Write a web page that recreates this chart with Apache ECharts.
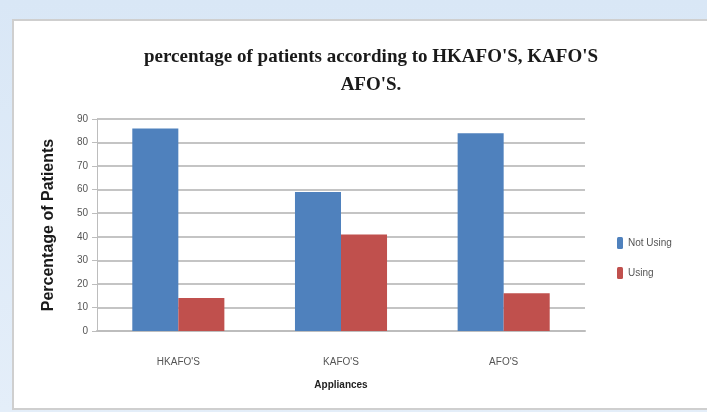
<!DOCTYPE html>
<html>
<head>
<meta charset="utf-8">
<script src="https://cdn.jsdelivr.net/npm/echarts@6/dist/echarts.min.js"></script>
<style>
html,body{margin:0;padding:0;}
body{width:707px;height:412px;background:linear-gradient(180deg,#d9e7f6 0%,#e4eef9 100%);position:relative;overflow:hidden;}
#frame{position:absolute;left:12px;top:19px;width:700px;height:391px;background:#fff;border:2px solid #cfcfcf;box-sizing:border-box;}
#chart{position:absolute;left:0;top:0;width:707px;height:412px;}
</style>
</head>
<body>
<div id="frame"></div>
<div id="chart"></div>
<script>
const categories = ["HKAFO'S", "KAFO'S", "AFO'S"];
const notUsing = [86, 59, 84];
const using = [14, 41, 16];
const yTicks = [0, 10, 20, 30, 40, 50, 60, 70, 80, 90];

const chart = echarts.init(document.getElementById('chart'), null, {renderer: 'canvas'});
chart.setOption({
  backgroundColor: 'transparent',
  animation: false,
  title: {
    text: "percentage of patients according to HKAFO'S, KAFO'S\nAFO'S.",
    left: 366,
    textAlign: 'center',
    top: 38,
    textStyle: {
      fontFamily: 'Liberation Serif, Times New Roman, serif',
      fontWeight: 'bold',
      fontSize: 19,
      lineHeight: 28,
      color: '#1a1a1a'
    }
  },
  legend: {
    orient: 'vertical',
    left: 612,
    top: 232,
    itemGap: 18,
    itemWidth: 6,
    itemHeight: 12,
    icon: 'roundRect',
    textStyle: {fontFamily: 'Liberation Sans, Arial, sans-serif', fontSize: 10, color: '#555'},
    data: ['Not Using', 'Using']
  },
  grid: {left: 97, right: 122, top: 119, bottom: 81, containLabel: false},
  xAxis: {
    type: 'category',
    data: categories,
    name: 'Appliances',
    nameLocation: 'middle',
    nameGap: 49,
    nameTextStyle: {fontFamily: 'Liberation Sans, Arial, sans-serif', fontSize: 10, fontWeight: 'bold', color: '#222'},
    axisLine: {lineStyle: {color: '#bdbdbd', width: 2}},
    axisTick: {show: false},
    axisLabel: {fontFamily: 'Liberation Sans, Arial, sans-serif', fontSize: 10, color: '#555', margin: 26}
  },
  yAxis: {
    type: 'value',
    min: 0,
    max: 90,
    interval: 10,
    name: 'Percentage of Patients',
    nameLocation: 'middle',
    nameGap: 40,
    nameTextStyle: {fontFamily: 'Liberation Sans, Arial, sans-serif', fontSize: 16, fontWeight: 'bold', color: '#1a1a1a'},
    axisLine: {show: true, lineStyle: {color: '#bdbdbd', width: 1}},
    axisTick: {show: true, length: 5, lineStyle: {color: '#bdbdbd'}},
    axisLabel: {
      fontFamily: 'Liberation Sans, Arial, sans-serif', fontSize: 10, color: '#555', margin: 9,
      formatter: function (v) { return yTicks.indexOf(v) >= 0 ? String(v) : ''; }
    },
    splitLine: {lineStyle: {color: '#c4c4c4', width: 2}}
  },
  series: [
    {name: 'Not Using', type: 'bar', data: notUsing, barWidth: '28.3%', barGap: '0%',
     itemStyle: {color: '#4F81BD'}},
    {name: 'Using', type: 'bar', data: using, barWidth: '28.3%', barGap: '0%',
     itemStyle: {color: '#C0504D'}}
  ]
});
</script>
</body>
</html>
